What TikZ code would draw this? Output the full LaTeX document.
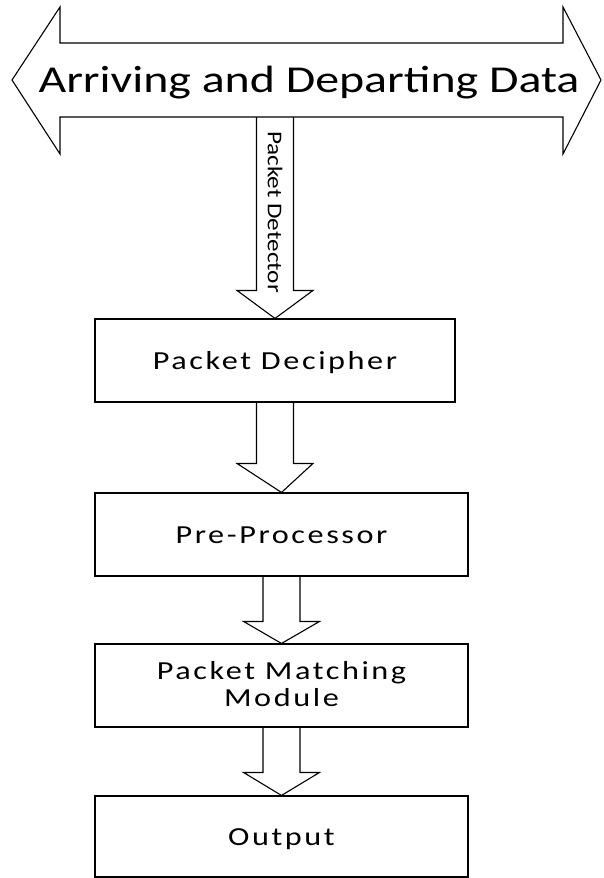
\documentclass[tikz,border=0pt]{standalone}
\usepackage{graphicx}
\usepackage{fontspec}
\setmainfont{Carlito}
\newfontfamily\boxfont[LetterSpace=8]{Carlito}
\usetikzlibrary{calc}
\newcommand\wide[1]{\scalebox{1.24}[1]{#1}}
\tikzset{
  shape line/.style={draw=black, line width=1.1pt, line join=miter},
  stagebox/.style={shape line, rectangle, minimum height=83pt, inner sep=0pt, align=center,
    text height=18pt, text depth=0pt,
    font=\boxfont\fontsize{26}{27}\selectfont},
}
\newcommand\barrow[3]{%
  \draw[shape line] let \p1=(#1), \p2=(#2) in
    (\x1-18.5pt,\y1) -- (\x1-18.5pt,\y2+#3) -- (\x1-38pt,\y2+#3) -- (\x2,\y2)
    -- (\x1+38pt,\y2+#3) -- (\x1+18.5pt,\y2+#3) -- (\x1+18.5pt,\y1);}
\begin{document}
\begin{tikzpicture}[x=1pt,y=-1pt]
\useasboundingbox (0,0) rectangle (603,878);
% big double arrow
\draw[shape line] (12,80) -- (60,7) -- (60,43) -- (563,43) -- (563,7) -- (601,80)
  -- (563,154) -- (563,117) -- (60,117) -- (60,154) -- cycle;
\node[anchor=base, inner sep=0pt, font=\fontsize{38}{40}\selectfont] (title) at (309,92)
  {\scalebox{1.26}[1]{Arriving and Departing Data}};
\coordinate (dd) at (275,117);
% boxes
\node[stagebox, minimum width=360pt] (dec) at (275,360.5) {\wide{Packet Decipher}};
\node[stagebox, minimum width=373pt] (pre) at (281.5,534.5) {\wide{Pre-Processor}};
\node[stagebox, minimum width=373pt, text height=41pt] (pmm) at (281.5,685.5) {\wide{Packet Matching}\\\wide{Module}};
\node[stagebox, minimum width=373pt, minimum height=81pt] (out) at (281.5,836.5) {\wide{Output}};
% block arrows
\barrow{dd}{dec.north}{28pt}
\node[rotate=-90, inner sep=0pt, font=\fontsize{21}{22}\selectfont] (pd) at (275,212)
  {\scalebox{1.2}[1]{Packet Detector}};
\barrow{dec.south}{pre.north}{29pt}
\barrow{pre.south}{pmm.north}{22pt}
\barrow{pmm.south}{out.north}{23pt}
\end{tikzpicture}
\end{document}
